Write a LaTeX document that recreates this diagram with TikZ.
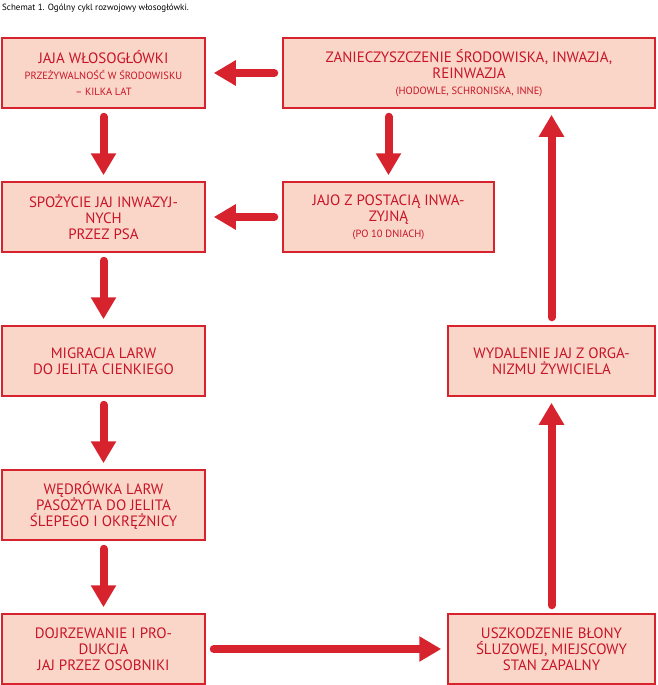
\documentclass[tikz,border=0pt]{standalone}
\usepackage{fontspec}
\setmainfont{PT Sans}
\usetikzlibrary{arrows.meta}
\definecolor{boxfill}{RGB}{250,214,200}
\definecolor{boxred}{RGB}{215,35,45}
\definecolor{txtred}{RGB}{200,20,40}

\tikzset{
  stage/.style={draw=boxred, line width=1.5pt, fill=boxfill, text=txtred, align=center,
    minimum height=70pt, inner sep=2pt, font=\fontsize{15}{16}\selectfont},
  flow/.style={draw=boxred, line width=8pt, line cap=round, -{Triangle[length=22pt,width=24pt]}},
}
\newcommand{\smalltxt}[1]{{\fontsize{10.5}{12}\selectfont #1}}

\begin{document}
\begin{tikzpicture}[x=1pt,y=1pt,yscale=-1]
\useasboundingbox (0,0) rectangle (658,685);

% Caption
\node[anchor=north west, inner sep=0pt, font=\fontsize{9}{10}\selectfont] (title) at (2,4) {Schemat 1. Ogólny cykl rozwojowy włosogłówki.};

% Boxes
\node[stage, minimum width=203pt] (jaja) at (103.5,73) {JAJA WŁOSOGŁÓWKI\\ \smalltxt{PRZEŻYWALNOŚĆ W ŚRODOWISKU}\\ \smalltxt{– KILKA LAT}};
\node[stage, minimum width=372pt] (zanie) at (469,73) {ZANIECZYSZCZENIE ŚRODOWISKA, INWAZJA,\\ REINWAZJA\\ \smalltxt{(HODOWLE, SCHRONISKA, INNE)}};
\node[stage, minimum width=203pt] (spoz) at (103.5,217) {SPOŻYCIE JAJ INWAZYJ-\\ NYCH\\ PRZEZ PSA};
\node[stage, minimum width=211pt] (jajo) at (388.5,217) {JAJO Z POSTACIĄ INWA-\\ ZYJNĄ\\ \smalltxt{(PO 10 DNIACH)}};
\node[stage, minimum width=203pt] (migr) at (103.5,361) {MIGRACJA LARW\\ DO JELITA CIENKIEGO};
\node[stage, minimum width=207pt] (wyda) at (551.5,361) {WYDALENIE JAJ Z ORGA-\\ NIZMU ŻYWICIELA};
\node[stage, minimum width=203pt] (wedr) at (103.5,505) {WĘDRÓWKA LARW\\ PASOŻYTA DO JELITA\\ ŚLEPEGO I OKRĘŻNICY};
\node[stage, minimum width=203pt] (dojr) at (103.5,649) {DOJRZEWANIE I PRO-\\ DUKCJA\\ JAJ PRZEZ OSOBNIKI};
\node[stage, minimum width=207pt] (uszk) at (551.5,649) {USZKODZENIE BŁONY\\ ŚLUZOWEJ, MIEJSCOWY\\ STAN ZAPALNY};

% Arrows
\draw[flow] ([xshift=-8pt]zanie.west) -- ([xshift=8pt]jaja.east);
\draw[flow] ([yshift=8pt]jaja.south) -- ([yshift=-6pt]spoz.north);
\draw[flow] ([yshift=8pt]zanie.south -| jajo.north) -- ([yshift=-6pt]jajo.north);
\draw[flow] ([xshift=-8pt]jajo.west) -- ([xshift=8pt]spoz.east);
\draw[flow] ([yshift=8pt]spoz.south) -- ([yshift=-6pt]migr.north);
\draw[flow] ([yshift=8pt]migr.south) -- ([yshift=-6pt]wedr.north);
\draw[flow] ([yshift=8pt]wedr.south) -- ([yshift=-6pt]dojr.north);
\draw[flow] ([xshift=8pt]dojr.east) -- ([xshift=-6pt]uszk.west);
\draw[flow] ([yshift=-8pt]uszk.north) -- ([yshift=6pt]wyda.south);
\draw[flow] ([yshift=-8pt]wyda.north) -- ([yshift=6pt]zanie.south -| wyda.north);
\end{tikzpicture}
\end{document}
